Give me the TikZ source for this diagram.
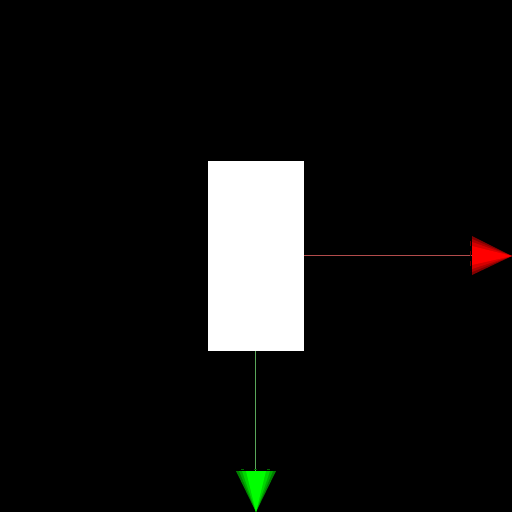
\documentclass[tikz,border=0pt]{standalone}
\begin{document}
\begin{tikzpicture}[x=1pt,y=-1pt,
  box/.style={fill=white,draw=none,minimum width=96pt,minimum height=190pt,inner sep=0pt,outer sep=0pt},
  axisline/.style={line width=0.5pt}]
\fill[black] (0,0) rectangle (512,512);
\useasboundingbox (0,0) rectangle (512,512);
\node[box] (b) at (256,256) {};
\coordinate (rx) at (472,255);
\coordinate (gy) at (255.5,471);
\draw[axisline,red!40!gray] (b.east |- rx) -- (rx);
\draw[axisline,green!30!gray] (b.south -| gy) -- (gy);
% red cone (banded)
\fill[red!50!black] (472,236) -- (512,256) -- (472,275) -- cycle;
\fill[red!68!black] (472,239) -- (512,256) -- (472,272) -- cycle;
\fill[red!84!black] (472,242) -- (512,256) -- (472,269) -- cycle;
\fill[red] (472,246) -- (512,256) -- (472,265) -- cycle;
\draw[red!40!black,line width=0.8pt,dash pattern=on 5pt off 5pt] (470,241) -- (470,271);
% green cone (banded)
\fill[green!50!black] (236,471) -- (276,471) -- (256,512) -- cycle;
\fill[green!68!black] (239,471) -- (273,471) -- (256,512) -- cycle;
\fill[green!84!black] (242,471) -- (270,471) -- (256,512) -- cycle;
\fill[green] (246,471) -- (266,471) -- (256,512) -- cycle;
\draw[green!40!black,line width=0.8pt,dash pattern=on 3pt off 10pt] (241,469) -- (272,469);
\end{tikzpicture}
\end{document}
